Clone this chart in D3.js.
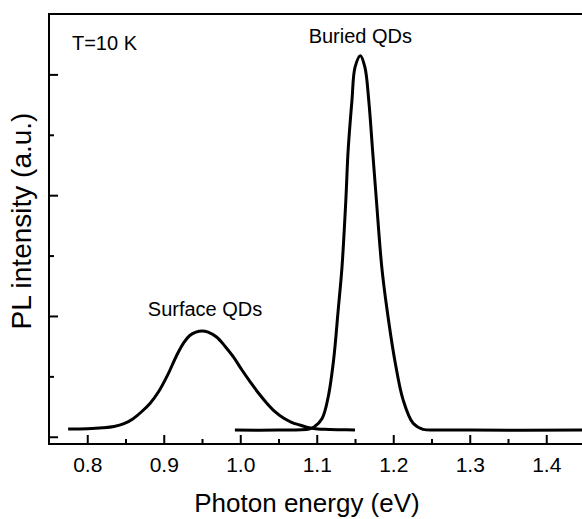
<!DOCTYPE html>
<html>
<head>
<meta charset="utf-8">
<script src="https://cdn.jsdelivr.net/npm/d3@7"></script>
<style>
  body { margin: 0; background: #fff; }
  svg { display: block; font-family: 'Liberation Sans', Arial, sans-serif; }
</style>
</head>
<body>
<script>
const width = 582
const height = 519

// PL spectra (energy in eV, intensity in a.u.)
const surfaceEnergy = [0.775, 0.800, 0.820, 0.835, 0.848, 0.860, 0.871, 0.882, 0.893, 0.905,
  0.917, 0.926, 0.934, 0.942, 0.950, 0.958, 0.969, 0.980, 0.991, 1.002, 1.013, 1.024, 1.035,
  1.045, 1.056, 1.067, 1.078, 1.087, 1.096, 1.110, 1.130, 1.150]
const surfaceIntensity = [0.064, 0.067, 0.074, 0.085, 0.108, 0.150, 0.207, 0.276, 0.370, 0.510,
  0.675, 0.778, 0.838, 0.866, 0.876, 0.866, 0.826, 0.750, 0.661, 0.555, 0.455, 0.360, 0.276,
  0.210, 0.157, 0.120, 0.097, 0.080, 0.069, 0.062, 0.058, 0.056]

const buriedEnergy = [0.993, 1.050, 1.080, 1.090, 1.096, 1.107, 1.115, 1.122, 1.128, 1.133, 1.138, 1.141,
  1.146, 1.150, 1.157, 1.163, 1.168, 1.173, 1.178, 1.185, 1.192, 1.202, 1.213, 1.226, 1.239, 1.260,
  1.300, 1.450]
const buriedIntensity = [0.055, 0.055, 0.057, 0.064, 0.078, 0.152, 0.331, 0.634, 1.047, 1.405, 1.956, 2.369,
  2.783, 3.058, 3.155, 3.058, 2.783, 2.369, 1.956, 1.405, 1.047, 0.634, 0.303, 0.111, 0.061, 0.056,
  0.055, 0.055]

const xMajorTicks = [0.8, 0.9, 1.0, 1.1, 1.2, 1.3, 1.4]
const xMinorTicks = [0.85, 0.95, 1.05, 1.15, 1.25, 1.35, 1.45]
const yMajorTicks = [0, 1, 2, 3]
const yMinorTicks = [0.5, 1.5, 2.5]

const labels = [
  { text: 'T=10 K', e: 0.78, v: 3.2, anchor: 'start' },
  { text: 'Buried QDs', e: 1.157, v: 3.26, anchor: 'middle' },
  { text: 'Surface QDs', e: 0.954, v: 1.0, anchor: 'middle' }
]

const svg = d3.select('body')
  .append('svg')
  .attr('width', width)
  .attr('height', height)

const xScale = d3.scaleLinear()
  .domain([0.75, 1.45])
  .range([49, 584.5])
const yScale = d3.scaleLinear()
  .domain([-0.06, 3.5])
  .range([444, 14])

// frame: left, bottom, top (right side is cut off in the original)
svg.append('path')
  .attr('d', `M${width},14H49V444H${width}`)
  .attr('fill', 'none')
  .attr('stroke', '#000')
  .attr('stroke-width', 2)

const xAxis = d3.axisBottom(xScale)
  .tickValues(xMajorTicks)
  .tickSize(-9)
  .tickPadding(13)
  .tickFormat(d3.format('.1f'))
const xMinor = d3.axisBottom(xScale)
  .tickValues(xMinorTicks)
  .tickSize(-5)
  .tickFormat('')
const yAxis = d3.axisLeft(yScale)
  .tickValues(yMajorTicks)
  .tickSize(-9)
  .tickFormat('')
const yMinor = d3.axisLeft(yScale)
  .tickValues(yMinorTicks)
  .tickSize(-5)
  .tickFormat('')

const gx = svg.append('g').attr('transform', 'translate(0,444)').call(xAxis)
svg.append('g').attr('transform', 'translate(0,444)').call(xMinor)
svg.append('g').attr('transform', 'translate(49,0)').call(yAxis)
svg.append('g').attr('transform', 'translate(49,0)').call(yMinor)

svg.selectAll('.domain').remove()
svg.selectAll('.tick line').attr('stroke', '#000').attr('stroke-width', 2)
gx.selectAll('text')
  .attr('font-size', '21px')
  .attr('font-family', "'Liberation Sans', Arial, sans-serif")
  .attr('fill', '#000')

const line = d3.line()
  .x(function (d) { return xScale(d[0]) })
  .y(function (d) { return yScale(d[1]) })
  .curve(d3.curveCatmullRom)

const series = [
  d3.zip(buriedEnergy, buriedIntensity),
  d3.zip(surfaceEnergy, surfaceIntensity)
]

svg.selectAll('path.spectrum')
  .data(series)
  .enter()
  .append('path')
  .attr('class', 'spectrum')
  .attr('d', line)
  .attr('fill', 'none')
  .attr('stroke', '#000')
  .attr('stroke-width', 3)
  .attr('stroke-linejoin', 'round')

svg.selectAll('text.label')
  .data(labels)
  .enter()
  .append('text')
  .attr('class', 'label')
  .attr('x', function (d) { return xScale(d.e) })
  .attr('y', function (d) { return yScale(d.v) })
  .attr('text-anchor', function (d) { return d.anchor })
  .attr('font-size', '20px')
  .text(function (d) { return d.text })

svg.append('text')
  .attr('x', 307)
  .attr('y', 512)
  .attr('text-anchor', 'middle')
  .attr('font-size', '26px')
  .text('Photon energy (eV)')

svg.append('text')
  .attr('transform', 'translate(31,221) rotate(-90)')
  .attr('text-anchor', 'middle')
  .attr('font-size', '28px')
  .text('PL intensity (a.u.)')
</script>
</body>
</html>
